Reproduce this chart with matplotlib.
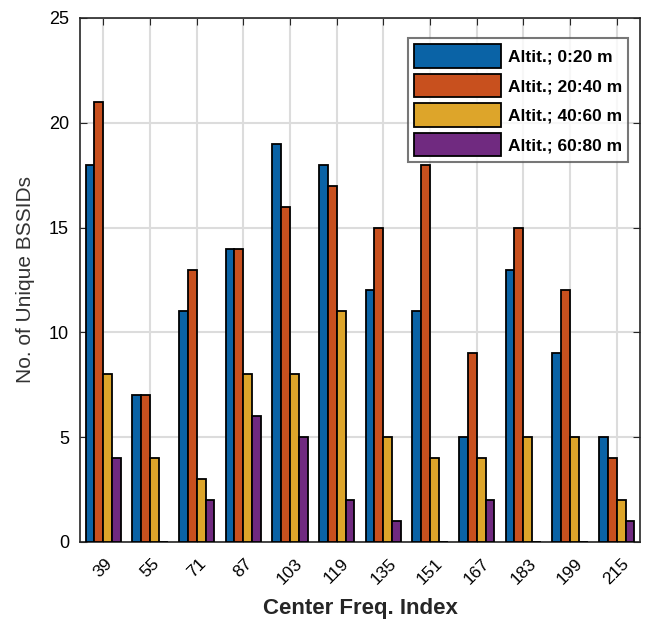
import numpy as np
import matplotlib
matplotlib.use("Agg")
import matplotlib.pyplot as plt

categories = ["39", "55", "71", "87", "103", "119", "135", "151", "167", "183", "199", "215"]
alt_0_20 = [18, 7, 11, 14, 19, 18, 12, 11, 5, 13, 9, 5]
alt_20_40 = [21, 7, 13, 14, 16, 17, 15, 18, 9, 15, 12, 4]
alt_40_60 = [8, 4, 3, 8, 8, 11, 5, 4, 4, 5, 5, 2]
alt_60_80 = [4, 0, 2, 6, 5, 2, 1, 0, 2, 0, 0, 1]
series = [alt_0_20, alt_20_40, alt_40_60, alt_60_80]
labels = ["Altit.; 0:20 m", "Altit.; 20:40 m", "Altit.; 40:60 m", "Altit.; 60:80 m"]
colors = ["#0A63A6", "#C8501E", "#DDA52A", "#702A80"]

plt.rcParams['font.family'] = ['Liberation Sans', 'DejaVu Sans']
fig = plt.figure(figsize=(6.46, 6.30), dpi=100)
ax = fig.add_axes([80/646, (630-542)/630, (640-80)/646, (542-18)/630])

x = np.arange(1, len(categories) + 1)
w = 0.19
for i, (vals, lab, c) in enumerate(zip(series, labels, colors)):
    ax.bar(x + (i - 1.5) * w, vals, width=w, color=c, edgecolor='black',
           linewidth=1.3, label=lab, zorder=3)

ax.set_xlim(0.5, 12.5)
ax.set_ylim(0, 25)
ax.set_xticks(x)
ax.set_xticklabels(categories, rotation=45, fontsize=12.5)
ax.set_yticks([0, 5, 10, 15, 20, 25])
ax.tick_params(axis='y', labelsize=13, pad=8)
ax.tick_params(axis='x', pad=10)
ax.tick_params(direction='in', top=True, right=True, length=5, color='#262626')
ax.grid(True, color='#dcdcdc', linewidth=1.5, zorder=0)
ax.set_axisbelow(True)
for s in ax.spines.values():
    s.set_color('#262626')
    s.set_linewidth(1.2)
ax.set_ylabel("No. of Unique BSSIDs", fontsize=15, color='#333333', labelpad=10)
ax.set_xlabel("Center Freq. Index", fontsize=16, fontweight='bold', color='#262626', labelpad=8)

leg = ax.legend(loc='upper right', bbox_to_anchor=(0.985, 0.968), fontsize=12.5,
                frameon=True, fancybox=False, edgecolor='#555555',
                handlelength=5.0, handleheight=1.7, borderpad=0.35,
                labelspacing=0.35, handletextpad=0.4, borderaxespad=0.2)
leg.get_frame().set_linewidth(1.5)
for t in leg.get_texts():
    t.set_fontweight('bold')

fig.savefig("out.png", dpi=100)
